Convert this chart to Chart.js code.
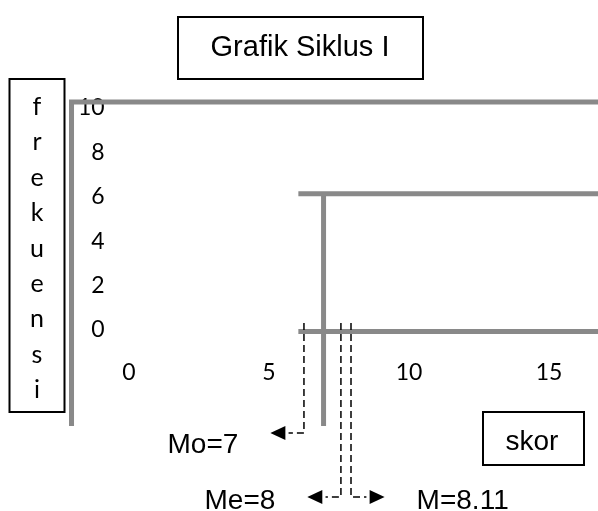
<!DOCTYPE html>
<html>
<head>
<meta charset="utf-8">
<title>Grafik Siklus I</title>
<script src="https://cdn.jsdelivr.net/npm/chart.js@4.4.1/dist/chart.umd.min.js"></script>
<style>
  html, body { margin: 0; padding: 0; background: #fff; }
  #chart { display: block; }
</style>
</head>
<body>
<canvas id="chart" width="598" height="511"></canvas>
<script>
// --- Data ---
const xTicks = [0, 5, 10, 15];
const yTicks = [0, 2, 4, 6, 8, 10];
const axisLetters = ['f', 'r', 'e', 'k', 'u', 'e', 'n', 's', 'i'];

// frequency levels (thick grey bars) and where each one starts on the skor axis
const levelY = [10, 6, 0];
const levelStartX = [-2, 6.1, 6.1];
const levelEndX = 16.8;
const axisBottomY = -4.12;
const modeX = 7;

// statistics markers: where each dashed drop sits and where its arrow points
const statLabels = ['Mo=7', 'Me=8', 'M=8.11'];
const statX = [6.3, 7.62, 7.98];
const statTopY = 0.37;
const statArrowY = [-4.42, -7.21, -7.21];
const statDir = [-1, -1, 1];

// --- Helpers ---
const GREY = '#898989';
const pt = (x, y) => ({ x, y });

const greyLine = (data) => ({
    data, borderColor: GREY, borderWidth: 5, pointRadius: 0,
    showLine: true, borderJoinStyle: 'miter', borderCapStyle: 'butt', order: 2
});

const datasets = [];

// dashed drops (drawn on top of the grey bars)
statX.forEach((sx, i) => {
    datasets.push({
        data: [pt(sx, statTopY), pt(sx, statArrowY[i]), pt(sx + statDir[i] * 0.55, statArrowY[i])],
        borderColor: '#000', borderWidth: 1.5, borderDash: [7, 4], pointRadius: 0,
        showLine: true, order: 1
    });
});

// frame: top level bar bent down into the frequency axis
datasets.push(greyLine([pt(levelEndX, levelY[0]), pt(levelStartX[0], levelY[0]), pt(levelStartX[0], axisBottomY)]));
// remaining level bars
for (let i = 1; i < levelY.length; i++) {
    datasets.push(greyLine([pt(levelStartX[i], levelY[i]), pt(levelEndX, levelY[i])]));
}
// mode stem
datasets.push(greyLine([pt(modeX, levelY[1]), pt(modeX, axisBottomY)]));

// --- Drawing plugin: ticks, arrows, labels, boxes ---
const decorPlugin = {
    id: 'decor',
    beforeDatasetsDraw(chart) {
        const { ctx, scales } = chart;
        ctx.save();
        ctx.fillStyle = '#000';
        ctx.font = '23px Lato';
        ctx.textBaseline = 'middle';

        ctx.textAlign = 'right';
        const yLabelX = scales.x.getPixelForValue(-0.82);
        yTicks.forEach(v => ctx.fillText(String(v), yLabelX, scales.yTick.getPixelForValue(v)));

        ctx.textAlign = 'center';
        const xLabelY = scales.yTick.getPixelForValue(-1.9);
        xTicks.forEach(v => ctx.fillText(String(v), scales.x.getPixelForValue(v + 0.05), xLabelY));
        ctx.restore();
    },
    afterDatasetsDraw(chart) {
        const { ctx, scales } = chart;
        ctx.save();
        ctx.fillStyle = '#000';
        ctx.strokeStyle = '#000';

        // arrow heads + stat labels
        ctx.font = '28px "Liberation Sans", Arial, sans-serif';
        ctx.textBaseline = 'alphabetic';
        statX.forEach((sx, i) => {
            const dir = statDir[i];
            const tipX = scales.x.getPixelForValue(sx + dir * 1.2);
            const y = scales.y.getPixelForValue(statArrowY[i]);
            ctx.beginPath();
            ctx.moveTo(tipX, y);
            ctx.lineTo(tipX - dir * 15, y - 7);
            ctx.lineTo(tipX - dir * 15, y + 7);
            ctx.closePath();
            ctx.fill();

            ctx.textAlign = dir < 0 ? 'right' : 'left';
            ctx.fillText(statLabels[i], tipX + dir * 32, y + (i === 0 ? 20 : 12));
        });

        ctx.lineWidth = 2;

        // title box
        ctx.strokeRect(178, 17, 245, 62);
        ctx.font = '29px "Liberation Sans", Arial, sans-serif';
        ctx.textAlign = 'center';
        ctx.fillText('Grafik Siklus I', 300, 56);

        // skor box
        ctx.strokeRect(483, 412, 101, 53);
        ctx.font = '28px "Liberation Sans", Arial, sans-serif';
        ctx.fillText('skor', 532, 450);

        // frekuensi box
        ctx.strokeRect(9.5, 79, 55, 333);
        ctx.font = '25px Lato';
        axisLetters.forEach((ch, i) => ctx.fillText(ch, 37, 115 + i * 35.4));

        ctx.restore();
    }
};

// --- Chart ---
new Chart(document.getElementById('chart').getContext('2d'), {
    type: 'scatter',
    data: { datasets },
    options: {
        responsive: false,
        animation: false,
        devicePixelRatio: 1,
        layout: { padding: 0 },
        plugins: { legend: { display: false }, tooltip: { enabled: false } },
        scales: {
            x: { type: 'linear', min: -4.554, max: 16.8, display: false },
            y: { type: 'linear', min: -7.821, max: 14.444, display: false },
            yTick: { type: 'linear', axis: 'y', min: -8.153, max: 14.865, display: false }
        }
    },
    plugins: [decorPlugin]
});
</script>
</body>
</html>
